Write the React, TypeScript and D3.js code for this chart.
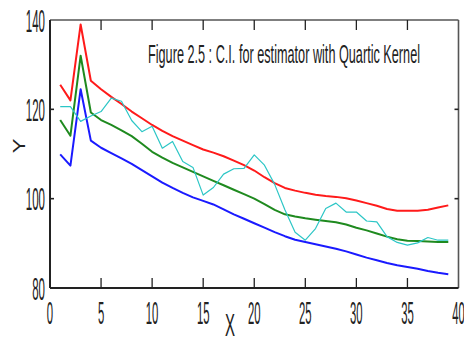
import React from "react";
import * as d3 from "d3";

const xs: number[] = d3.range(1, 40);
const upper: number[] = [125.5, 122, 139, 126.4, 124.5, 122.8, 121.2, 119.5, 118, 116.5, 115.2, 114, 113, 112, 111, 110.3, 109.5, 108.5, 107.5, 106.3, 104.8, 103.5, 102.4, 101.8, 101.3, 100.9, 100.6, 100.4, 100.1, 99.6, 99, 98.4, 97.7, 97.3, 97.3, 97.3, 97.5, 98, 98.5];
const estimate: number[] = [117.6, 114.1, 132, 119.3, 117.6, 116.5, 115.3, 114, 112.3, 110.5, 109.2, 108, 107, 106, 105, 104, 103, 102, 101, 100, 98.8, 97.5, 96.5, 96, 95.6, 95.3, 95, 94.7, 94.2, 93.5, 92.9, 92.2, 91.5, 90.9, 90.6, 90.5, 90.4, 90.3, 90.3];
const lower: number[] = [109.9, 107.4, 124.5, 113, 111.4, 110.2, 109, 107.8, 106.4, 105, 103.6, 102.4, 101.3, 100.3, 99.5, 98.7, 97.6, 96.5, 95.5, 94.5, 93.5, 92.5, 91.6, 90.8, 90.3, 89.8, 89.3, 88.8, 88.2, 87.5, 86.8, 86.2, 85.6, 85.1, 84.7, 84.3, 83.8, 83.4, 83.1];
const observed: number[] = [120.6, 120.6, 117.3, 118.5, 119.5, 122.5, 121.8, 117.5, 115, 116.2, 111.3, 112.8, 108.3, 107, 100.8, 102.5, 105.5, 106.7, 106.8, 109.8, 107.5, 103.2, 97.5, 92.5, 90.7, 93.3, 97.8, 99, 97, 97, 95, 94.8, 91.5, 90.2, 89.6, 90.1, 91.3, 90.7, 90.7];

const xTicks: number[] = [0, 5, 10, 15, 20, 25, 30, 35, 40];
const yTicks: number[] = [80, 100, 120, 140];
const title = "Figure 2.5 : C.I. for estimator with Quartic Kernel";

const FONT = "'Liberation Sans', Arial, sans-serif";

export default function App() {
  const x = d3.scaleLinear().domain([0, 40]).range([50, 458.5]);
  const y = d3.scaleLinear().domain([80, 140]).range([288, 20]);
  const line = d3
    .line<number>()
    .x((_, i) => x(xs[i]))
    .y((d) => y(d));

  const series = [
    { data: upper, color: "#ff1a1a", w: 2 },
    { data: estimate, color: "#1f8a1f", w: 2 },
    { data: lower, color: "#1a1aff", w: 2 },
    { data: observed, color: "#2cc6c6", w: 1.2 },
  ];

  const [x0, x1] = x.range();
  const [y0, y1] = y.range();

  return (
    <svg
      width={464}
      height={341}
      style={{ position: "absolute", left: 0, top: 0, background: "#fff" }}
    >
      {/* frame */}
      <line x1={x0} x2={x1} y1={y1} y2={y1} stroke="#555" strokeWidth={1.6} />
      <line x1={x1} x2={x1} y1={y1} y2={y0} stroke="#555" strokeWidth={1.6} />
      <line x1={x0} x2={x0} y1={y1} y2={y0} stroke="#222" strokeWidth={2} />
      <line x1={x0} x2={x1} y1={y0} y2={y0} stroke="#222" strokeWidth={2} />
      {/* x ticks */}
      {xTicks
        .filter((t) => t > 0 && t < 40)
        .map((t) => (
          <g key={"xt" + t}>
            <line x1={x(t)} x2={x(t)} y1={y0} y2={y0 - 10} stroke="#222" strokeWidth={1.3} />
            <line x1={x(t)} x2={x(t)} y1={y1} y2={y1 + 10} stroke="#222" strokeWidth={1.3} />
          </g>
        ))}
      {/* y ticks */}
      {yTicks
        .filter((t) => t > 80 && t < 140)
        .map((t) => (
          <g key={"yt" + t}>
            <line x1={x0} x2={x0 + 4} y1={y(t)} y2={y(t)} stroke="#222" strokeWidth={1.6} />
            <line x1={x1} x2={x1 - 4} y1={y(t)} y2={y(t)} stroke="#222" strokeWidth={1.6} />
          </g>
        ))}
      {/* series */}
      {series.map((s, i) => (
        <path
          key={i}
          d={line(s.data) || ""}
          fill="none"
          stroke={s.color}
          strokeWidth={s.w}
          strokeLinejoin="round"
        />
      ))}
      {/* x tick labels */}
      {xTicks.map((t) => {
        const label = String(t);
        const w = label.length * 6.3;
        return (
          <text
            key={"xl" + t}
            x={x(t) - w / 2}
            y={324}
            fontFamily={FONT}
            fontSize={32}
            fill="#222"
            textLength={w}
            lengthAdjust="spacingAndGlyphs"
          >
            {label}
          </text>
        );
      })}
      {/* y tick labels */}
      {yTicks.map((t) => {
        const label = String(t);
        const w = label.length * 6.4;
        return (
          <text
            key={"yl" + t}
            x={45 - w}
            y={y(t) + 11.5}
            fontFamily={FONT}
            fontSize={32}
            fill="#222"
            textLength={w}
            lengthAdjust="spacingAndGlyphs"
          >
            {label}
          </text>
        );
      })}
      {/* axis labels */}
      <text
        x={225}
        y={336}
        fontFamily={FONT}
        fontSize={32}
        fill="#222"
        textLength={10}
        lengthAdjust="spacingAndGlyphs"
      >
        X
      </text>
      <g transform="translate(25,146) scale(0.75,1) rotate(-90)">
        <text
          x={0}
          y={0}
          textAnchor="middle"
          fontFamily={FONT}
          fontSize={22}
          fill="#222"
        >
          Y
        </text>
      </g>
      {/* title */}
      <text
        x={148}
        y={63}
        fontFamily={FONT}
        fontSize={25}
        fill="#222"
        textLength={272}
        lengthAdjust="spacingAndGlyphs"
      >
        {title}
      </text>
    </svg>
  );
}
